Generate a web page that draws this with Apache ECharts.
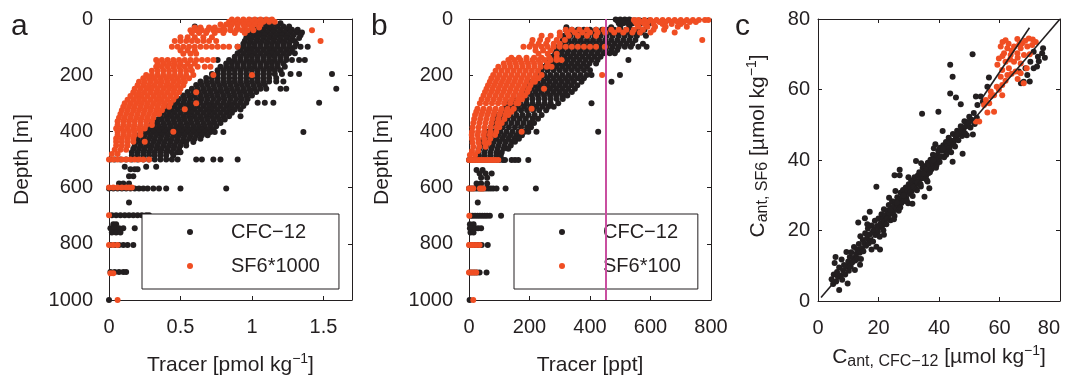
<!DOCTYPE html>
<html><head><meta charset="utf-8">
<script src="https://cdn.jsdelivr.net/npm/echarts@6/dist/echarts.min.js"></script>
<style>html,body{margin:0;padding:0;background:#fff}#chart{width:1070px;height:376px}</style>
</head><body><div id="chart"></div>
<script>
// ---------- DATA ----------
// Panel a: [depth m, [tracer values pmol/kg]]
const cfcA = [
[5,[1.00,1.04,1.08,1.12]],
[15,[0.98,1.03,1.07,1.11,1.15,1.20]],
[27,[0.60,1.02,1.06,1.10,1.14,1.18,1.22,1.26]],
[38,[1.00,1.04,1.08,1.12,1.16,1.20,1.24,1.28,1.32]],
[48,[0.99,1.03,1.07,1.11,1.15,1.19,1.23,1.27,1.31,1.35]],
[58,[0.97,1.01,1.05,1.09,1.13,1.17,1.21,1.25,1.29,1.34]],
[68,[0.96,1.00,1.04,1.08,1.12,1.16,1.20,1.24,1.28,1.33]],
[78,[0.95,0.99,1.03,1.07,1.11,1.15,1.19,1.23,1.27,1.30]],
[88,[0.94,0.98,1.02,1.06,1.10,1.14,1.18,1.22,1.26,1.31]],
[99,[0.90,0.94,0.98,1.02,1.06,1.10,1.14,1.18,1.22,1.26,1.30,1.34,1.39]],
[110,[0.92,0.96,1.00,1.04,1.08,1.12,1.16,1.20,1.24,1.28]],
[122,[0.90,0.94,0.98,1.02,1.06,1.10,1.14,1.18,1.22,1.26,1.30]],
[134,[0.88,0.92,0.96,1.00,1.04,1.08,1.12,1.16,1.20,1.24]],
[146,[0.76,0.84,0.88,0.92,0.96,1.00,1.04,1.08,1.12,1.16,1.20,1.24,1.28,1.33,1.37]],
[158,[0.82,0.86,0.90,0.94,0.98,1.02,1.06,1.10,1.14,1.18,1.22]],
[170,[0.78,0.82,0.86,0.90,0.94,0.98,1.02,1.06,1.10,1.14,1.18,1.23]],
[182,[0.76,0.80,0.84,0.88,0.92,0.96,1.00,1.04,1.08,1.12,1.16,1.20]],
[196,[0.72,0.76,0.80,0.84,0.88,0.92,0.96,1.00,1.04,1.08,1.12,1.16,1.21,1.27,1.33,1.56]],
[210,[0.68,0.72,0.76,0.80,0.84,0.88,0.92,0.96,1.00,1.04,1.08,1.12,1.17]],
[222,[0.64,0.68,0.72,0.76,0.80,0.84,0.88,0.92,0.96,1.00,1.04,1.08,1.12,1.17,1.22]],
[235,[0.61,0.65,0.69,0.73,0.77,0.81,0.85,0.89,0.93,0.97,1.01,1.05,1.09]],
[248,[0.58,0.62,0.66,0.70,0.74,0.78,0.82,0.86,0.90,0.94,0.98,1.02,1.06,1.10,1.20,1.24,1.59]],
[260,[0.55,0.59,0.63,0.67,0.71,0.75,0.79,0.83,0.87,0.91,0.95,0.99,1.03]],
[272,[0.52,0.56,0.60,0.64,0.68,0.72,0.76,0.80,0.84,0.88,0.92,0.96,1.00]],
[285,[0.49,0.53,0.57,0.61,0.65,0.69,0.73,0.77,0.81,0.85,0.89,0.93,0.97]],
[298,[0.44,0.48,0.52,0.56,0.60,0.64,0.68,0.72,0.76,0.80,0.84,0.88,0.92,0.96,1.04,1.09,1.15,1.47]],
[310,[0.42,0.46,0.50,0.54,0.58,0.62,0.66,0.70,0.74,0.78,0.82,0.86,0.90,0.94]],
[322,[0.40,0.44,0.48,0.52,0.56,0.60,0.64,0.68,0.72,0.76,0.80,0.84,0.88,0.92]],
[334,[0.38,0.42,0.46,0.50,0.54,0.58,0.62,0.66,0.70,0.74,0.78,0.82,0.86]],
[346,[0.36,0.40,0.44,0.48,0.52,0.56,0.60,0.64,0.68,0.72,0.76,0.80,0.84,0.92]],
[358,[0.33,0.37,0.41,0.45,0.49,0.53,0.57,0.61,0.65,0.69,0.73,0.77,0.81]],
[370,[0.30,0.34,0.38,0.42,0.46,0.50,0.54,0.58,0.62,0.66,0.70,0.74,0.78]],
[382,[0.27,0.31,0.35,0.39,0.43,0.47,0.51,0.55,0.59,0.63,0.67,0.71,0.75]],
[394,[0.25,0.29,0.33,0.37,0.41,0.45,0.49,0.53,0.57,0.61,0.65,0.69,0.73]],
[402,[0.23,0.27,0.31,0.35,0.39,0.43,0.47,0.51,0.55,0.59,0.63,0.67,0.71,0.74,0.80,1.36]],
[414,[0.21,0.25,0.29,0.33,0.37,0.41,0.45,0.49,0.53,0.57,0.61,0.65,0.69]],
[426,[0.20,0.24,0.28,0.32,0.36,0.40,0.44,0.48,0.52,0.56,0.60,0.64]],
[438,[0.19,0.23,0.27,0.31,0.35,0.39,0.43,0.47,0.51,0.54,0.59]],
[450,[0.18,0.22,0.26,0.30,0.34,0.38,0.42,0.46,0.50,0.54]],
[462,[0.17,0.21,0.25,0.29,0.33,0.37,0.41,0.45,0.49]],
[474,[0.16,0.20,0.24,0.28,0.32,0.36,0.40,0.44,0.48,0.50]],
[486,[0.16,0.20,0.24,0.28,0.32,0.36,0.40,0.45]],
[500,[0.01,0.04,0.08,0.12,0.16,0.20,0.24,0.28,0.32,0.36,0.40,0.44,0.48,0.61,0.65,0.73,0.78,0.90]],
[526,[0.11,0.26,0.33]],
[535,[0.15,0.18,0.20]],
[560,[0.14,0.17]],
[585,[0.07,0.10,0.14]],
[603,[0.00,0.03,0.06,0.09,0.12,0.15,0.18,0.21,0.24,0.27,0.31,0.35,0.40,0.50,0.82]],
[653,[0.14]],
[698,[0.02,0.05,0.08,0.11,0.14,0.17,0.20,0.23,0.26,0.28]],
[730,[0.03,0.05]],
[745,[0.01,0.04,0.07,0.10,0.18]],
[760,[0.02,0.05,0.08]],
[804,[0.01,0.04,0.07,0.10,0.13,0.17]],
[900,[0.01,0.04,0.07,0.10,0.12]],
[1000,[0.00]]
];
const sf6A = [
[2,[0.86,0.90,0.94,0.98,1.02,1.06,1.10,1.14]],
[10,[0.84,0.88,0.92,0.96,1.00,1.04,1.08,1.12,1.16]],
[20,[0.78,0.82,0.86,0.90,0.94,0.98,1.02,1.06]],
[30,[0.60,0.64,0.70,0.74,0.80,0.85,0.90,0.95,1.00,1.05]],
[40,[0.57,0.61,0.65,0.69,0.73,0.77,0.81,0.85,0.89,0.93,0.97,1.01,1.42]],
[50,[0.58,0.63,0.68,0.74,0.80,0.88,0.95]],
[65,[0.50,0.55,0.60,0.66,0.72]],
[78,[0.46,0.50,0.54,0.58,0.62,0.66,0.70,0.75,1.48]],
[99,[0.44,0.48,0.52,0.56,0.60,0.64,0.68,0.72,0.76,0.80,0.84,0.90]],
[112,[0.50,0.55,0.60]],
[124,[0.52,0.57,0.61]],
[146,[0.33,0.37,0.41,0.45,0.49,0.53,0.57,0.61,0.65,0.69,0.73]],
[158,[0.34,0.38,0.42,0.46,0.50,0.55,0.60]],
[170,[0.33,0.37,0.41,0.45,0.49,0.53,0.57,0.62,0.67,0.71]],
[184,[0.30,0.34,0.38,0.42,0.46,0.50,0.54,0.58]],
[199,[0.26,0.30,0.34,0.38,0.42,0.46,0.50,0.54,0.59,0.73,1.00]],
[211,[0.24,0.28,0.32,0.36,0.40,0.44,0.48,0.52,0.56]],
[223,[0.21,0.25,0.29,0.33,0.37,0.41,0.45,0.49,0.53]],
[236,[0.20,0.24,0.28,0.32,0.36,0.40,0.44,0.48,0.52]],
[248,[0.18,0.22,0.26,0.30,0.34,0.38,0.42,0.46,0.50]],
[261,[0.17,0.21,0.25,0.29,0.33,0.37,0.41,0.45,0.49,0.61]],
[274,[0.15,0.19,0.23,0.27,0.31,0.35,0.39,0.43,0.47]],
[287,[0.13,0.17,0.21,0.25,0.29,0.33,0.37,0.41,0.45]],
[300,[0.11,0.15,0.19,0.23,0.27,0.31,0.35,0.39,0.43,0.61]],
[312,[0.10,0.14,0.18,0.22,0.26,0.30,0.34,0.38,0.42]],
[321,[0.53]],
[325,[0.09,0.13,0.17,0.21,0.25,0.29,0.33,0.37]],
[338,[0.08,0.12,0.16,0.20,0.24,0.28,0.32,0.35]],
[351,[0.07,0.11,0.15,0.19,0.23,0.27,0.31]],
[364,[0.06,0.10,0.14,0.18,0.22,0.26,0.30]],
[377,[0.06,0.10,0.14,0.18,0.22,0.26,0.30]],
[390,[0.05,0.09,0.13,0.17,0.21,0.25]],
[401,[0.06,0.10,0.14,0.18,0.22,0.45]],
[413,[0.06,0.10,0.14,0.18,0.22]],
[425,[0.05,0.09,0.13,0.17]],
[437,[0.05,0.09,0.13,0.17,0.25]],
[450,[0.05,0.09,0.13]],
[465,[0.04,0.08,0.12]],
[480,[0.02,0.06]],
[500,[0.00,0.03,0.06,0.09,0.12,0.15,0.18,0.21,0.24,0.28]],
[600,[0.00,0.03,0.06,0.09,0.12,0.14,0.16]],
[698,[0.00]],
[804,[0.00,0.03,0.06]],
[905,[0.01,0.03]],
[1000,[0.06]]
];
// Panel b: [depth m, [tracer values ppt]]
const cfcB = [
[2,[485,500,515,530]],
[5,[490,505,520,535,550,565,580,595]],
[15,[495,510,525,540,555,570,585,600]],
[29,[322,470,500,530,560]],
[38,[320,340,360,380,400,420,440,460,480,500,520,540,560,580]],
[48,[330,350,370,390,410,430,450,470,490,510,530,550,570]],
[60,[315,335,355,375,395,415,435,455,475,495,515,535,555,585]],
[75,[310,330,350,370,390,410,430,450,470,490,510,530,550]],
[88,[300,320,340,360,380,400,420,440,460,480,500,520,540,575]],
[99,[295,315,335,355,375,395,415,435,455,475,495,515,535,560,587]],
[110,[290,310,330,350,370,390,410,430,450,470,490]],
[122,[285,305,325,345,365,385,405,425,445,465,482]],
[134,[275,295,315,335,355,375,395,415,435]],
[146,[265,285,305,325,345,365,385,405,425,527]],
[158,[258,278,298,318,338,358,378,398,420]],
[170,[250,270,290,310,330,350,370,390]],
[182,[240,260,280,300,320,340,360,380,400]],
[199,[229,249,269,289,309,329,349,369,389,405,499]],
[211,[220,240,260,280,300,320,340,360,380]],
[223,[207,227,247,267,287,307,327,347,372,471]],
[236,[198,218,238,258,278,298,318,338,358]],
[248,[188,208,228,248,268,288,308,328,350]],
[260,[180,200,220,240,260,280,300,320,340]],
[272,[168,188,208,228,248,268,288,308,325]],
[285,[150,170,190,210,230,250,270,290,310]],
[300,[130,150,170,190,210,230,250,270,295,405]],
[312,[122,142,162,182,202,222,242,262,280]],
[325,[112,132,152,172,192,212,232,255]],
[342,[97,117,137,157,177,197,217,240]],
[355,[88,108,128,148,168,188,210,228]],
[370,[80,100,120,140,160,180,200,215]],
[385,[72,92,112,132,152,172,192,205]],
[401,[64,84,104,124,144,164,184,196,223,427]],
[414,[56,76,96,116,136,156,175]],
[426,[50,70,90,110,130,150,165]],
[437,[42,62,82,102,122,142,152]],
[450,[38,58,78,98,118,138]],
[462,[34,54,74,94,114,130]],
[475,[31,51,71,91,108]],
[487,[32,50,70,90,105]],
[502,[0,10,20,30,40,50,60,70,80,90,100,112,119,141,152,163,196]],
[537,[25,45]],
[550,[35,55,75]],
[565,[40,60]],
[585,[25,40,60]],
[603,[0,8,16,24,32,40,48,56,64,72,80,91,121,221]],
[653,[29]],
[700,[5,12,20,28,36,44,52,60,69,106]],
[730,[3,15]],
[745,[3,10,20,30,40]],
[760,[5,15]],
[804,[2,10,18,26,34,42,62]],
[902,[2,10,18,26,35,58]],
[1000,[2]]
];
const sf6B = [
[4,[545,560,580,600,620,640,660,680,700,720,740,760,780,791]],
[11,[550,570,590,610,630,650,670,690,710,730,750]],
[18,[555,580,610,640,670,700]],
[28,[560,590,615,650,690,720]],
[38,[320,340,365,390,420,445,470,495,520,545,575,610,645]],
[48,[300,325,350,375,400,425,450,480,510,540,565,600,680]],
[60,[240,270,300,330,360,390,420]],
[75,[210,235,260,290,317,771]],
[88,[207,230,255,280,300]],
[99,[180,200,220,240,260,280,300,320,340,360,380,400,420,449]],
[112,[220,245,270]],
[124,[230,260,290]],
[138,[140,165,190,215,240,265,290]],
[146,[130,150,170,190,210,230,250,270,290,306]],
[158,[115,135,155,175,195,215,235,260]],
[170,[97,117,137,157,177,197,217,237,257,273]],
[184,[88,108,128,148,168,188,208,228]],
[199,[80,100,120,140,160,180,200,220,240,440]],
[211,[74,94,114,134,154,174,194,214,230]],
[223,[69,89,109,129,149,169,189,209,218]],
[236,[63,83,103,123,143,163,183,203]],
[248,[58,78,98,118,138,158,178,198,248]],
[260,[53,73,93,113,133,153,173,193]],
[272,[48,68,88,108,128,148,168,185]],
[286,[42,62,82,102,122,142,162,175]],
[300,[36,56,76,96,116,136,156,163]],
[319,[28,48,68,88,108,128,148,207]],
[330,[24,44,64,84,104,124,140]],
[342,[20,40,60,80,100,120,130]],
[356,[17,37,57,77,97,117]],
[370,[14,34,54,74,94,108]],
[385,[12,32,52,72,92,100]],
[401,[10,30,50,70,90,174]],
[413,[9,29,49,69,86]],
[426,[10,30,50,70]],
[440,[12,32,52,65]],
[455,[14,34,55]],
[470,[10,30]],
[484,[3,20]],
[502,[0,8,16,24,32,40,48,56,64,72,80,88,97]],
[603,[0,7,14,36,41,47]],
[700,[1]],
[804,[0,8,16,25,35]],
[902,[0,8,16,24]],
[1000,[14]]
];
// Panel c: [C_ant CFC-12, C_ant SF6] pairs (umol/kg)
const cantBlack = [
[4.5,6.2],[5,4.8],[5.2,7.5],[5.5,10.8],[5.8,12.5],[6,5.5],[6.3,8.2],[6.6,6.8],[7,3.1],[7,9.5],[7.4,7.2],[7.8,11.8],[8,6],[8.3,8.7],[8.6,10.2],[9,7.5],[9.4,13.9],[9.5,9.8],[9.8,5],[10,11.2],[10.2,8.6],
[10.5,12.5],[10.8,9.7],[11,13.8],[11.3,10.9],[11.6,12.2],[11.9,15.3],[12.2,8.8],[12.3,11.5],[12.6,13.3],[12.9,14.6],[13.2,12],[13.3,22.3],[13.5,16.2],[13.8,13.7],[14,18.4],[14.2,11.9],[14.5,15],[14.8,17.3],[15,14.1],[15.3,16.4],[15.5,23.5],[15.6,19.2],
[15.9,15.7],[16.2,17.8],[16.5,20.6],[16.8,16.4],[17.1,25.3],[17.1,18.9],[17.4,17.2],[17.7,21.4],[18,19.4],[18.2,16.9],[18.5,20.2],[18.8,22.8],[19,18.7],[19.3,15.4],[19.3,32.4],[19.5,21.3],[19.8,19.6],[20,23.4],[20.2,20.9],[20.5,14.6],
[20.7,22],[21,24.6],[21.2,21.3],[21.5,23.2],[21.8,26],[22,22.6],[22.3,24.4],[22.6,21.8],[22.9,25.6],[23.1,23.7],[23.4,27.2],[23.7,24.8],[24,22.9],[24.2,26.1],[24.5,28.3],[24.8,25],[25,26.9],[25.3,35.7],[25.3,24.1],
[25.6,28.1],[25.9,26.2],[26.2,29.4],[26.4,27.4],[26.7,25.6],[27,37.2],[27,35.7],[27,28.9],[27.3,30.7],[27.6,27.8],[27.9,29.6],[28.1,31.5],[28.4,28.4],[28.7,30.3],[29,32.2],[29.2,29.1],[29.5,31],[29.8,27.7],[30,33.1],[30.3,30.4],
[30.5,32],[30.8,34.2],[31,31.3],[31.3,29.8],[31.6,33],[31.9,35.1],[32.1,32.2],[32.4,39.7],[32.4,34.1],[32.7,31.4],[33,35.6],[33.2,33.4],[33.5,36.5],[33.8,34.6],[34,32.5],[34.3,35.9],[34.6,37.7],[34.9,34.9],[35.2,29.6],[35.2,36.8],
[35.5,38.3],[35.8,35.7],[36,37.4],[36.3,39.2],[36.6,36.3],[36.8,32],[36.9,38.5],[37.2,40.1],[37.5,37.4],[37.8,39.3],[38,41.5],[38.2,38.6],[38.5,40.2],[38.8,44.5],[39,37.8],[39.3,41.3],[39.6,39.6],[39.8,42.5],[40,40.6],
[40.3,43.5],[40.6,41],[41,42.6],[41.2,48.2],[41.4,44.2],[41.7,40.8],[42,43.1],[42.3,45.1],[42.6,42.5],[42.9,44],[43.2,46.3],[43.5,43.5],[43.8,45.5],[44,42.2],[44.3,44.7],[44.5,39.5],[44.6,47.4],[45,45.5],[45.3,43.8],
[45.6,46.5],[46,48.3],[46.4,45.6],[46.8,47.8],[47.2,49.6],[47.2,55.8],[47.6,46.8],[47.8,41.8],[48,48.6],[48.4,51],[48.8,49.5],[49.2,47],[49.6,50.8],[50,52.3],[50.4,49.2],[50.8,51.4],[51.2,47.2],[51.5,53.3],[51.8,50.2],[52.2,58],[52.5,52],
[20.4,18.2],[21.6,20.1],[22.8,23.3],[23.9,25.9],[25.1,23.2],[26.1,27.9],[27.2,26.5],[28.3,29.9],[29.4,28.3],[30.6,30.9],[31.7,32.4],[32.9,33.6],[33.9,33.1],[34.8,36.2],[35.9,34.4],[37,36.5],[38.1,39.9],[39.2,38.6],[40.2,39.4],[41.3,43.2],[42.4,41.5],[43.6,44.9],[44.8,44.4],[46.1,47.2],[47.3,48.2],[48.6,47.6],[49.9,50.6],[25.6,31.2],[29.9,35.1],[34.1,39.1],[38.3,43.3],[31.2,27.6],[36.2,33.9],[17.7,14.6],[13.9,10.3],[16.3,21.8],[21.8,18.8],[23.5,29.3],
[51.1,70],[43.7,67],[44.5,63.6],[43.7,58.9],[45.6,57.7],[39.8,53.7],[34.4,53.1],[52.7,55.6],[53.8,58],[56,60.8],[56.5,63.4],[54.5,56.5],
[71.3,70.7],[72.7,69.3],[74.1,70.3],[74.4,71.7],[70.2,67.9],[68.6,66],[71.3,66],[72.4,66.5],[69.2,64.1],[66.4,65.1],[68,62.2],[70,62.3],[67.1,61.8],[73,68],[75,69]
];
const cantOrange = [
[62,74],[65.9,74.3],[69.7,74.5],[67.5,73.1],[60.4,72.2],[62.6,71.7],[64.8,72.2],[67,71.7],[69.2,72.2],[70.8,72.6],[61.5,70.3],[63.7,69.8],[65.9,70.3],[68.1,69.8],[59.8,68.8],[62,67.9],[64.8,67.9],[67,67.4],[59.3,67],[60.9,65.5],[63.1,66],[65.3,65.1],[60.4,63.6],[62.6,64.1],[68,61.8],[67,64.6],[59.1,60.8],[60.9,61.3],[58.2,58.4],[60.9,58.4],[57.1,58],[55.5,57],[56.6,56.1],[54.9,55.6],[58.2,53.7],[56,53.5],[53.3,50.9],[52.2,50.9],[57.1,59.4],[59.8,59.9],[61,73.5],[63,73],[66.5,72.8],[68.5,73.8],[71,74.2],[64,71],[66,69],[61,69.5],[63.5,68.5],[64,64.5],[62,62.5],[66,63],[69,66],[70,70],[72,73.5]
];
const oneToOneLine = [[1,1],[80,80]];
const sf6FitLine = [[54.6,58],[69.9,77.5]];
const sf6Threshold = 452; // ppt, vertical line in panel b

// axis ranges [min, max, interval]
const xRangeA = [0, 1.7, 0.5], xRangeB = [0, 800, 200], xRangeC = [0, 80, 20];
const depthRange = [0, 1000, 200], yRangeC = [0, 80, 20];

// ---------- STYLE ----------
const FONT = '"Liberation Sans", Arial, Helvetica, sans-serif';
const INK = '#231f20', ORANGE = '#f04e23', MAGENTA = '#c94fa0';

function rowsToPoints(rows) {
  const out = [];
  rows.forEach(r => r[1].forEach(v => out.push([v, r[0]])));
  return out;
}
const plain = v => String(v);
const lineSt = {color: INK, width: 1};
function xAxes(g, r, opts) {
  const base = {type: 'value', gridIndex: g, min: r[0], max: r[1], interval: r[2],
    axisLine: {show: true, onZero: false, lineStyle: lineSt},
    axisTick: {show: true, inside: true, length: 4, lineStyle: lineSt},
    splitLine: {show: false}};
  return [
    Object.assign({}, base, {position: 'bottom',
      axisLabel: Object.assign({fontSize: 20, color: INK, fontFamily: FONT, margin: 17, formatter: plain}, opts.label || {}),
      name: opts.name, nameLocation: 'middle', nameGap: opts.nameGap,
      nameTextStyle: {fontSize: 21, color: INK, fontFamily: FONT, lineHeight: 26, rich: opts.rich}}),
    Object.assign({}, base, {position: 'top', axisLabel: {show: false}})
  ];
}
function yAxes(g, r, opts) {
  const base = {type: 'value', gridIndex: g, min: r[0], max: r[1], interval: r[2], inverse: !!opts.inverse,
    axisLine: {show: true, onZero: false, lineStyle: lineSt},
    axisTick: {show: true, inside: true, length: 4, lineStyle: lineSt},
    splitLine: {show: false}};
  return [
    Object.assign({}, base, {position: 'left',
      axisLabel: {fontSize: 20, color: INK, fontFamily: FONT, margin: opts.margin, formatter: plain},
      name: opts.name, nameLocation: 'middle', nameGap: opts.nameGap, nameRotate: 90,
      nameTextStyle: {fontSize: 21, color: INK, fontFamily: FONT, lineHeight: 26, rich: opts.rich, padding: opts.namePad || 0}}),
    Object.assign({}, base, {position: 'right', axisLabel: {show: false}})
  ];
}
const supRich = {sup: {fontSize: 14, fontFamily: FONT, color: INK, verticalAlign: 'top', lineHeight: 14}};
const cRich = {
  m: {fontSize: 21, fontFamily: FONT, color: INK, lineHeight: 26},
  sub: {fontSize: 16, fontFamily: FONT, color: INK, verticalAlign: 'bottom', lineHeight: 16},
  sup: {fontSize: 14, fontFamily: FONT, color: INK, verticalAlign: 'top', lineHeight: 14}
};

const xs = [].concat(
  xAxes(0, xRangeA, {name: 'Tracer [pmol kg{sup|−1}]', nameGap: 52, rich: supRich, label: {showMaxLabel: false}}),
  xAxes(1, xRangeB, {name: 'Tracer [ppt]', nameGap: 52, rich: supRich}),
  xAxes(2, xRangeC, {name: '{m|C}{sub|ant, CFC−12}{m| [µmol kg}{sup|−1}{m|]}', nameGap: 43, rich: cRich, label: {alignMaxLabel: 'right'}})
);
const ys = [].concat(
  yAxes(0, depthRange, {inverse: true, margin: 16, name: 'Depth [m]', nameGap: 74}),
  yAxes(1, depthRange, {inverse: true, margin: 16, name: 'Depth [m]', nameGap: 74}),
  yAxes(2, yRangeC, {margin: 8, name: '{m|C}{sub|ant, SF6}{m| [µmol kg}{sup|−1}{m|]}', nameGap: 47, rich: cRich, namePad: [0, 0, 0, 28]})
);

function scatter(name, data, g, color) {
  return {type: 'scatter', name: name, data: data, xAxisIndex: 2 * g, yAxisIndex: 2 * g,
    symbol: 'circle', symbolSize: 6, itemStyle: {color: color, opacity: 1}, silent: true};
}
const legendBase = {orient: 'vertical', icon: 'circle', itemWidth: 6, itemHeight: 6, itemGap: 14,
  borderColor: INK, borderWidth: 1, backgroundColor: '#fff', selectedMode: false,
  textStyle: {fontSize: 20, fontFamily: FONT, color: INK, lineHeight: 20, padding: [0, 0, 0, 33]}};
const letterStyle = {fontSize: 30, fontWeight: 'normal', color: INK, fontFamily: FONT};

const option = {
  animation: false,
  backgroundColor: '#fff',
  title: [
    {text: 'a', left: 11, top: 12, padding: 0, textStyle: letterStyle},
    {text: 'b', left: 371, top: 12, padding: 0, textStyle: letterStyle},
    {text: 'c', left: 735, top: 12, padding: 0, textStyle: letterStyle}
  ],
  grid: [
    {left: 109, top: 19, width: 243, height: 281, outerBoundsMode: 'none'},
    {left: 469, top: 19, width: 242, height: 281, outerBoundsMode: 'none'},
    {left: 818, top: 19, width: 242, height: 282, outerBoundsMode: 'none'}
  ],
  xAxis: xs,
  yAxis: ys,
  legend: [
    Object.assign({}, legendBase, {data: ['CFC−12', 'SF6*1000'], left: 142, top: 214, padding: [8, 19, 13, 45]}),
    Object.assign({}, legendBase, {data: ['CFC−12', 'SF6*100'], left: 514, top: 214, padding: [8, 17, 13, 45]})
  ],
  series: [
    scatter('CFC−12', rowsToPoints(cfcA), 0, INK),
    scatter('SF6*1000', rowsToPoints(sf6A), 0, ORANGE),
    scatter('CFC−12', rowsToPoints(cfcB), 1, INK),
    Object.assign(scatter('SF6*100', rowsToPoints(sf6B), 1, ORANGE), {
      markLine: {silent: true, symbol: 'none', label: {show: false},
        lineStyle: {color: MAGENTA, width: 2, type: 'solid'},
        data: [{xAxis: sf6Threshold}]}
    }),
    scatter('Cant', cantBlack, 2, INK),
    scatter('Cant SF6', cantOrange, 2, ORANGE),
    {type: 'line', name: '1:1', data: oneToOneLine, xAxisIndex: 4, yAxisIndex: 4, symbol: 'none',
      lineStyle: {color: INK, width: 1.6}, silent: true},
    {type: 'line', name: 'fit', data: sf6FitLine, xAxisIndex: 4, yAxisIndex: 4, symbol: 'none',
      lineStyle: {color: INK, width: 1.6}, silent: true}
  ]
};
const chart = echarts.init(document.getElementById('chart'), null, {renderer: 'canvas'});
chart.setOption(option);
</script></body></html>
